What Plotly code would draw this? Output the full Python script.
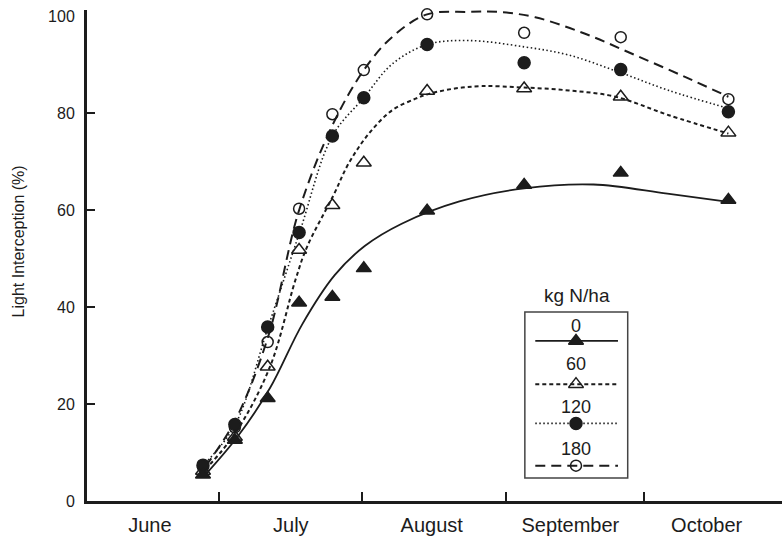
import plotly.graph_objects as go

# Sampling dates (day of year) and measured light interception (%) for each N rate
sample_day = [178.5, 185.4, 192.5, 199.3, 206.5, 213.3, 227.0, 248.0, 268.9, 292.2]
li_0 = [5.4, 12.6, 21.2, 40.9, 42.1, 48.0, 59.9, 65.2, 67.7, 62.1]
li_60 = [6.2, 13.2, 27.7, 51.8, 61.0, 69.8, 84.6, 85.1, 83.4, 76.0]
li_120 = [7.4, 15.8, 35.9, 55.4, 75.3, 83.2, 94.2, 90.4, 89.0, 80.3]
li_180 = [7.0, 15.2, 32.8, 60.3, 79.8, 88.9, 100.4, 96.6, 95.7, 82.9]

# Fitted response curves
fit_day_0 = [179, 186, 193, 200, 207, 213.5, 221.5, 234, 248, 263, 279, 292.2]
fit_0 = [5.4, 13.3, 23.3, 36.5, 46.6, 52.6, 57.2, 61.8, 64.5, 65.3, 63.4, 61.7]
fit_day_60 = [179, 185.5, 193, 198.5, 201, 206.7, 210, 214.4, 219.4, 224.5, 227.4, 233, 239, 248, 257.7, 267.8, 279.3, 292.2]
fit_60 = [6.5, 14.0, 27.7, 45.6, 52.4, 63.0, 69.6, 75.8, 80.6, 83.0, 84.0, 85.1, 85.6, 85.3, 84.7, 83.4, 79.6, 75.8]
fit_day_120 = [179, 185.5, 192.6, 199.4, 206.5, 213.3, 219.5, 227.1, 236, 248, 257.7, 268.5, 279.3, 292.2]
fit_120 = [7.8, 15.8, 35.9, 55.4, 75.3, 83.2, 90.2, 94.2, 95.0, 93.7, 92.0, 88.5, 84.7, 81.0]
fit_day_180 = [179, 185.5, 192.6, 199.3, 206.5, 213.3, 219.4, 227, 236, 242.5, 250.4, 261.2, 272, 282.8, 292.2]
fit_180 = [7.1, 16.7, 33.9, 60.0, 77.5, 88.9, 95.7, 100.4, 100.9, 100.9, 99.8, 96.4, 92.0, 87.5, 83.4]

# Axis labelling
month_label_day = [167, 197.5, 228, 258, 287.5]
month_names = ["June", "July", "August", "September", "October"]
month_start_day = [182, 213, 244, 274]
y_ticks = [0, 20, 40, 60, 80, 100]
n_rates = ["0", "60", "120", "180"]

INK = "#1c1c1c"
FONT = "Liberation Sans, Arial, sans-serif"

series = [
    # (label, sample values, fit days, fit values, dash, line width, marker symbol, marker size)
    ("60", li_60, fit_day_60, fit_60, "4px,3px", 2.0, "triangle-up-open", 13),
    ("180", li_180, fit_day_180, fit_180, "10px,6px", 2.0, "circle-open", 11),
    ("120", li_120, fit_day_120, fit_120, "1.5px,2.5px", 1.6, "circle", 12),
    ("0", li_0, fit_day_0, fit_0, "solid", 1.8, "triangle-up", 13),
]

fig = go.Figure()

# fitted curves first, symbols on top
for name, vals, fday, fvals, dash, lw, sym, ms in series:
    fig.add_trace(go.Scatter(
        x=fday, y=fvals, mode="lines", line=dict(color=INK, width=lw, dash=dash, shape="spline", smoothing=1.0),
        hoverinfo="skip", showlegend=False))

for name, vals, fday, fvals, dash, lw, sym, ms in series:
    fig.add_trace(go.Scatter(
        x=sample_day, y=vals, mode="markers", name=name + " kg N/ha",
        marker=dict(symbol=sym, size=ms, color=INK, line=dict(color=INK, width=1.5)),
        cliponaxis=False, showlegend=False))

# Key drawn on an overlay axis spanning the plot area (0-1 in both directions)
key_x = [0.645, 0.7036, 0.764]
key_rows = {"0": (0.357, 0.326), "60": (0.279, 0.238), "120": (0.191, 0.158), "180": (0.105, 0.072)}
style = {s[0]: s for s in series}
annotations = []
for rate in n_rates:
    ty, ly = key_rows[rate]
    _, _, _, _, dash, lw, sym, ms = style[rate]
    fig.add_trace(go.Scatter(
        x=key_x, y=[ly] * 3, mode="lines", xaxis="x2", yaxis="y2",
        line=dict(color=INK, width=lw, dash=dash), hoverinfo="skip", showlegend=False))
    fig.add_trace(go.Scatter(
        x=[key_x[1]], y=[ly], mode="markers", xaxis="x2", yaxis="y2",
        marker=dict(symbol=sym, size=ms, color=INK, line=dict(color=INK, width=1.5)),
        hoverinfo="skip", showlegend=False))
    annotations.append(dict(x=0.7036, y=ty, xref="paper", yref="paper", text=rate, showarrow=False,
                            font=dict(family=FONT, size=18, color=INK), xanchor="center", yanchor="middle"))

annotations.append(dict(x=0.705, y=0.418, xref="paper", yref="paper", text="kg N/ha", showarrow=False,
                        font=dict(family=FONT, size=19, color=INK), xanchor="center", yanchor="middle"))
annotations.append(dict(x=-0.099, y=0.529, xref="paper", yref="paper", text="Light Interception (%)",
                        showarrow=False, textangle=-90,
                        font=dict(family=FONT, size=16, color=INK), xanchor="center", yanchor="middle"))

fig.update_layout(
    width=782, height=539,
    margin=dict(l=87, r=0, t=10, b=38),
    paper_bgcolor="white", plot_bgcolor="white",
    font=dict(family=FONT, color=INK),
    xaxis=dict(
        range=[153.4, 303.8], showgrid=False, zeroline=False,
        showline=True, linecolor=INK, linewidth=2.5,
        tickmode="array", tickvals=month_label_day, ticktext=month_names,
        ticks="", ticklabelstandoff=4, tickfont=dict(family=FONT, size=20, color=INK),
        minor=dict(tickmode="array", tickvals=month_start_day, ticks="inside",
                   ticklen=9, tickwidth=1.5, tickcolor=INK, showgrid=False),
    ),
    yaxis=dict(
        range=[0, 101.3], showgrid=False, zeroline=False,
        showline=True, linecolor=INK, linewidth=3,
        tickmode="array", tickvals=y_ticks, ticktext=[str(v) for v in y_ticks],
        ticks="", ticklabelstandoff=6, tickfont=dict(family=FONT, size=16, color=INK),
        minor=dict(tickmode="array", tickvals=y_ticks[1:-1], ticks="inside",
                   ticklen=8, tickwidth=1.5, tickcolor=INK, showgrid=False),
    ),
    xaxis2=dict(overlaying="x", range=[0, 1], visible=False, anchor="y2"),
    yaxis2=dict(overlaying="y", range=[0, 1], visible=False, anchor="x2"),
    shapes=[dict(type="rect", xref="paper", yref="paper", x0=0.630, x1=0.778, y0=0.047, y1=0.385,
                 line=dict(color="#444444", width=1.5), fillcolor="rgba(0,0,0,0)", layer="below")],
    annotations=annotations,
    showlegend=False,
)

fig.write_html("out.html")
